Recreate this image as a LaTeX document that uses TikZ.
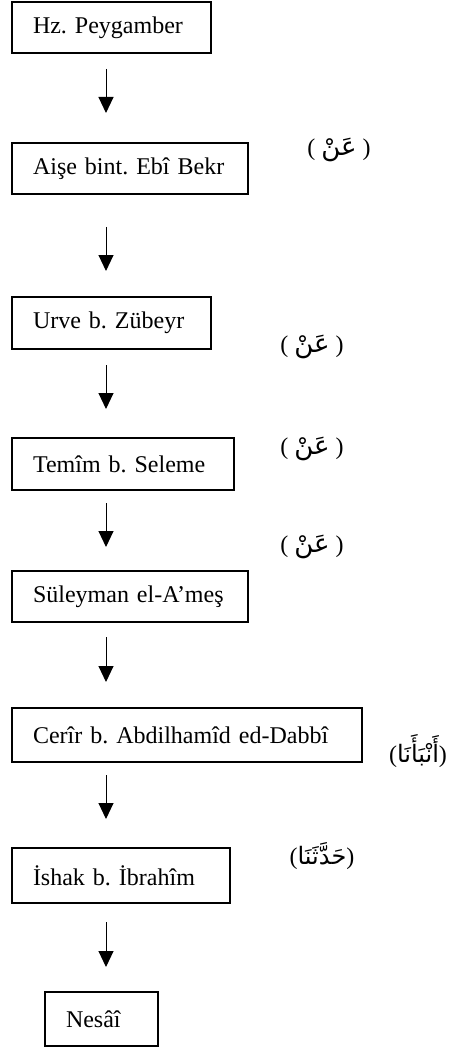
\documentclass[tikz,border=0pt]{standalone}
\usepackage{fontspec}
\setmainfont{Liberation Serif}
\newfontfamily\arabicfont[Script=Arabic]{DejaVu Sans}
\TeXXeTstate=1
\frenchspacing
\usepackage{tikz}
\usetikzlibrary{arrows.meta, positioning}

\begin{document}
\begin{tikzpicture}[x=0.5pt, y=-0.5pt,
  node distance=44pt,
  person/.style={rectangle, draw, line width=0.6pt, minimum height=25.5pt,
                 inner xsep=10.5pt, inner ysep=2pt, outer sep=0pt, text width=#1,
                 align=left, font=\fontsize{12}{14}\selectfont},
  arrow/.style={-{Triangle[length=8pt, width=7.5pt]}, line width=0.5pt},
  via/.style={font=\fontsize{12}{14}\selectfont, inner sep=1pt},
]
  \useasboundingbox (0,0) rectangle (457,1048);

  \node[person=78.5pt, anchor=north west] (peygamber) at (12,2) {Hz. Peygamber};
  \node[person=97pt, below=45pt of peygamber.south west, anchor=north west] (aise) {Aişe bint. Ebî Bekr};
  \node[person=78.5pt, below=51.5pt of aise.south west, anchor=north west, minimum height=26pt] (urve) {Urve b. Zübeyr};
  \node[person=90pt, below=44.5pt of urve.south west, anchor=north west, minimum height=26pt] (temim) {Temîm b. Seleme};
  \node[person=97pt, below=40.5pt of temim.south west, anchor=north west] (suleyman) {Süleyman el-A’meş};
  \node[person=154pt, below=43pt of suleyman.south west, anchor=north west, minimum height=27pt] (cerir) {Cerîr b. Abdilhamîd ed-Dabbî};
  \node[person=88pt, below=43pt of cerir.south west, anchor=north west, minimum height=27.5pt] (ishak) {İshak b. İbrahîm};
  \node[person=35.5pt, below=44.5pt of ishak.south west, xshift=16.5pt, anchor=north west, minimum height=27pt] (nesai) {Nesâî};

  % sigalar
  \node[via] (an1) at (339,150) {( {\arabicfont\fontsize{13}{14}\selectfont\beginR عَنْ\endR} )};
  \node[via] (an2) at (312,347) {( {\arabicfont\fontsize{13}{14}\selectfont\beginR عَنْ\endR} )};
  \node[via] (an3) at (312,449) {( {\arabicfont\fontsize{13}{14}\selectfont\beginR عَنْ\endR} )};
  \node[via] (an4) at (312,547) {( {\arabicfont\fontsize{13}{14}\selectfont\beginR عَنْ\endR} )};
  \node[via] (enbeena) at (418,751) {({\arabicfont\beginR أَنْبَأَنَا\endR})};
  \node[via] (haddesena) at (322,856) {({\arabicfont\beginR حَدَّثَنَا\endR})};

  \coordinate (ax) at (106,0);
  \draw[arrow, shorten <=8pt, shorten >=15pt] (peygamber.south -| ax) -- (aise.north -| ax);
  \draw[arrow, shorten <=16.5pt, shorten >=13pt] (aise.south -| ax) -- (urve.north -| ax);
  \draw[arrow, shorten <=8pt, shorten >=14.5pt] (urve.south -| ax) -- (temim.north -| ax);
  \draw[arrow, shorten <=6.5pt, shorten >=12pt] (temim.south -| ax) -- (suleyman.north -| ax);
  \draw[arrow, shorten <=7.5pt, shorten >=13pt] (suleyman.south -| ax) -- (cerir.north -| ax);
  \draw[arrow, shorten <=6.5pt, shorten >=14.5pt] (cerir.south -| ax) -- (ishak.north -| ax);
  \draw[arrow, shorten <=9.5pt, shorten >=12.5pt] (ishak.south -| ax) -- (nesai.north -| ax);
\end{tikzpicture}
\end{document}
